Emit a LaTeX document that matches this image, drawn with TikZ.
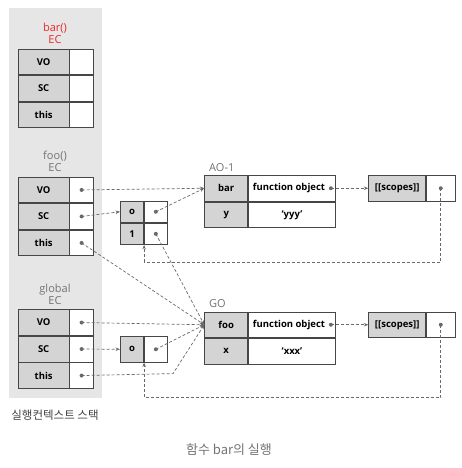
\documentclass[tikz,border=0pt]{standalone}
\usepackage{fontspec}
\setmainfont{Open Sans}
\newfontfamily\kofont{Noto Sans CJK KR}
\usetikzlibrary{positioning,arrows.meta}

\begin{document}
\begin{tikzpicture}[x=1pt, y=-1pt, every node/.style={align=center}]
    % colours
    \definecolor{stackbg}{RGB}{230,230,230}   % stack background
    \definecolor{keyfill}{RGB}{212,212,212}   % key cells
    \definecolor{linecol}{RGB}{70,70,70}      % cell borders
    \definecolor{linkcol}{RGB}{105,105,105}   % dashed links
    \definecolor{labeltext}{RGB}{115,115,115} % EC / object labels
    \definecolor{barred}{RGB}{238,40,40}      % running EC

    % styles
    \tikzstyle{keycell} = [rectangle, draw=linecol, line width=0.8pt, fill=keyfill, minimum width=50.5pt, minimum height=25.7pt, inner sep=0pt, anchor=north west, font=\fontsize{9.5}{10}\selectfont\bfseries]
    \tikzstyle{valcell} = [rectangle, draw=linecol, line width=0.8pt, fill=white, minimum width=23.8pt, minimum height=25.7pt, inner sep=0pt, anchor=north west, font=\fontsize{9.5}{10}\selectfont\bfseries]
    \tikzstyle{eclabel} = [font=\fontsize{11}{12.5}\selectfont, text=labeltext, anchor=south, inner sep=0pt]
    \tikzstyle{objlabel} = [font=\fontsize{11}{12}\selectfont, text=labeltext, anchor=south west, inner sep=0pt]
    \tikzstyle{dot} = [circle, fill=linkcol, inner sep=0pt, minimum size=4pt]
    \tikzstyle{link} = [->, >={Stealth[length=4.5pt,width=3.5pt]}, draw=linkcol, line width=0.7pt, dash pattern=on 3pt off 2pt]

    \useasboundingbox (0,0) rectangle (462,468);

    % execution context stack
    \fill[stackbg] (9,8) rectangle (101.5,398);
    \node[font=\kofont\fontsize{11.5}{13}\selectfont, text=black!75] (stacklbl) at (55,415) {실행컨텍스트 스택};

    % bar() EC
    \node[keycell] (bar-vo) at (18,48.7) {VO};
    \node[valcell, right=0pt of bar-vo] (bar-vo-v) {};
    \node[keycell, below=0pt of bar-vo] (bar-sc) {SC};
    \node[valcell, right=0pt of bar-sc] (bar-sc-v) {};
    \node[keycell, below=0pt of bar-sc] (bar-this) {this};
    \node[valcell, right=0pt of bar-this] (bar-this-v) {};
    \node[eclabel, text=barred] (barlbl) at (55,44) {bar()\\EC};

    % foo() EC
    \node[keycell] (foo-vo) at (18,176.7) {VO};
    \node[valcell, right=0pt of foo-vo] (foo-vo-v) {};
    \node[keycell, below=0pt of foo-vo] (foo-sc) {SC};
    \node[valcell, right=0pt of foo-sc] (foo-sc-v) {};
    \node[keycell, below=0pt of foo-sc] (foo-this) {this};
    \node[valcell, right=0pt of foo-this] (foo-this-v) {};
    \node[eclabel] (foolbl) at (55,172) {foo()\\EC};

    % global EC
    \node[keycell] (gl-vo) at (18,309.3) {VO};
    \node[valcell, right=0pt of gl-vo] (gl-vo-v) {};
    \node[keycell, below=0pt of gl-vo] (gl-sc) {SC};
    \node[valcell, right=0pt of gl-sc] (gl-sc-v) {};
    \node[keycell, below=0pt of gl-sc] (gl-this) {this};
    \node[valcell, right=0pt of gl-this] (gl-this-v) {};
    \node[eclabel] (gllbl) at (55,305) {global\\EC};

    % scope chains
    \node[keycell, minimum width=23.3pt, minimum height=21.3pt] (fo-o) at (120,200.7) {o};
    \node[valcell, minimum width=22.7pt, minimum height=21.3pt, right=0pt of fo-o] (fo-o-v) {};
    \node[keycell, minimum width=23.3pt, minimum height=21.3pt, below=0pt of fo-o] (fo-1) {1};
    \node[valcell, minimum width=22.7pt, minimum height=21.3pt, right=0pt of fo-1] (fo-1-v) {};
    \node[keycell, minimum width=23.3pt] (gl-o) at (120,336) {o};
    \node[valcell, minimum width=22.7pt, right=0pt of gl-o] (gl-o-v) {};

    % AO-1
    \node[keycell, minimum width=43pt] (ao-bar) at (204.3,175) {bar};
    \node[valcell, minimum width=87pt, right=0pt of ao-bar] (ao-bar-v) {function object\hspace{6pt}};
    \node[keycell, minimum width=43pt, below=0pt of ao-bar] (ao-y) {y};
    \node[valcell, minimum width=87pt, right=0pt of ao-y] (ao-y-v) {‘yyy’};
    \node[objlabel] (aolbl) at (209,172) {AO-1};
    \node[keycell, minimum width=57pt] (ao-sc) at (368.3,175) {[[scopes]]};
    \node[valcell, minimum width=28.5pt, right=0pt of ao-sc] (ao-sc-v) {};

    % GO
    \node[keycell, minimum width=43pt] (go-foo) at (204.3,311.5) {foo};
    \node[valcell, minimum width=87pt, right=0pt of go-foo] (go-foo-v) {function object\hspace{6pt}};
    \node[keycell, minimum width=43pt, below=0pt of go-foo] (go-x) {x};
    \node[valcell, minimum width=87pt, right=0pt of go-x] (go-x-v) {‘xxx’};
    \node[objlabel] (golbl) at (209,308) {GO};
    \node[keycell, minimum width=57pt] (go-sc) at (368.3,311.5) {[[scopes]]};
    \node[valcell, minimum width=28.5pt, right=0pt of go-sc] (go-sc-v) {};

    % dots
    \node[dot] (d-foo-vo) at (foo-vo-v) {};
    \node[dot] (d-foo-sc) at (foo-sc-v) {};
    \node[dot] (d-foo-this) at (foo-this-v) {};
    \node[dot] (d-gl-vo) at (gl-vo-v) {};
    \node[dot] (d-gl-sc) at (gl-sc-v) {};
    \node[dot] (d-gl-this) at (gl-this-v) {};
    \node[dot] (d-fo-o) at (fo-o-v) {};
    \node[dot] (d-fo-1) at (fo-1-v) {};
    \node[dot] (d-gl-o) at (gl-o-v) {};
    \node[dot] (d-ao-fo) at ([xshift=-5pt]ao-bar-v.east) {};
    \node[dot] (d-go-fo) at ([xshift=-5pt]go-foo-v.east) {};
    \node[dot] (d-ao-sc) at (ao-sc-v) {};
    \node[dot] (d-go-sc) at (go-sc-v) {};

    % bend points
    \coordinate (glbend) at (173,373.6);
    \coordinate (aoloop) at (0,262);
    \coordinate (goloop) at (0,397.5);

    % links
    \draw[link] (d-foo-vo.center) -- (ao-bar.west);
    \draw[link] (d-foo-sc.center) -- (fo-o.west);
    \draw[link] (d-fo-o.center) -- (ao-bar.west);
    \draw[link] (d-foo-this.center) -- (go-foo.west);
    \draw[link] (d-fo-1.center) -- (go-foo.west);
    \draw[link] (d-gl-vo.center) -- (go-foo.west);
    \draw[link] (d-gl-sc.center) -- (gl-o.west);
    \draw[link] (d-gl-o.center) -- (go-foo.west);
    \draw[link] (d-gl-this.center) -- (glbend) -- (go-foo.west);
    \draw[link] (d-ao-fo.center) -- (ao-sc.west);
    \draw[link] (d-go-fo.center) -- (go-sc.west);
    \draw[link] (d-ao-sc.center) -- (d-ao-sc.center |- aoloop) -- (fo-1.south east |- aoloop) -- (fo-1.south east);
    \draw[link] (d-go-sc.center) -- (d-go-sc.center |- goloop) -- (gl-o.south east |- goloop) -- (gl-o.south east);

    % caption
    \node[font=\kofont\fontsize{13}{15}\selectfont, text=black!55] (caption) at (229,450) {함수 bar의 실행};
  \end{tikzpicture}
\end{document}
